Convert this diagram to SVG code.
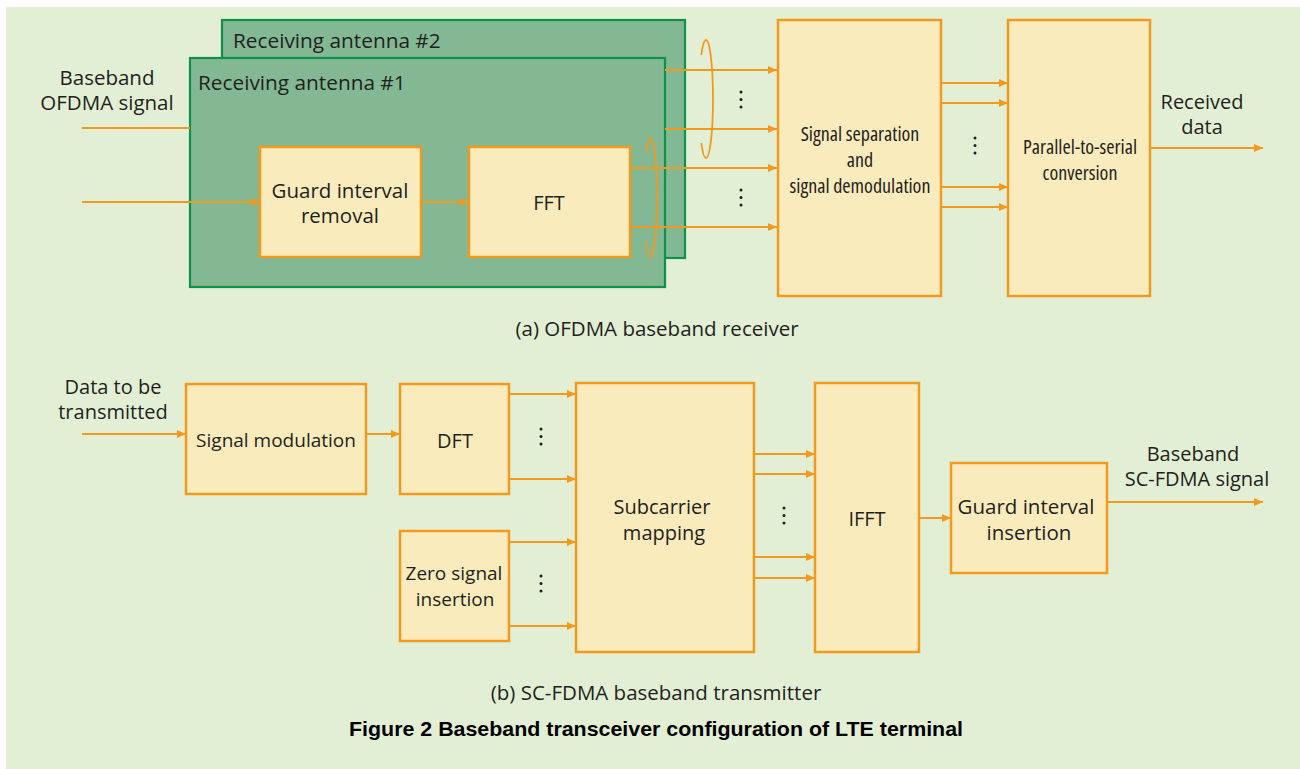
<svg xmlns="http://www.w3.org/2000/svg" width="1300" height="769" viewBox="0 0 1300 769">
<defs>
<marker id="arr" markerUnits="userSpaceOnUse" markerWidth="10" markerHeight="10" viewBox="0 0 10 10" refX="9" refY="5" orient="auto">
<path d="M0,1 L9,5 L0,9 Z" fill="#f39a1e"/>
</marker>
<style>
.bg{fill:#e2efd5}
.ant{fill:#82b893;stroke:#0e9148;stroke-width:2.2}
.box{fill:#faebbd;stroke:#f39a1e;stroke-width:2.5}
.ln{fill:none;stroke:#f39a1e;stroke-width:2}
.ar{fill:none;stroke:#f39a1e;stroke-width:2;marker-end:url(#arr)}
.ring{fill:none;stroke:#f39a1e;stroke-width:1.8}
.t{font-family:"Open Sans","Liberation Sans",sans-serif;font-size:20px;fill:#231f20;text-anchor:middle;dominant-baseline:central}
.big{font-size:20.5px}
.sm{font-size:19px}
.ts{font-family:"Open Sans","Liberation Sans",sans-serif;font-size:20.5px;fill:#231f20;text-anchor:middle;dominant-baseline:central}
.tc{font-family:"Open Sans","Liberation Sans",sans-serif;font-size:20px;font-stretch:80%;fill:#231f20;text-anchor:middle;dominant-baseline:central}
.tl{font-family:"Open Sans","Liberation Sans",sans-serif;font-size:20.8px;fill:#231f20;dominant-baseline:central}
.ttl{font-family:"Liberation Sans",Arial,sans-serif;font-size:21px;font-weight:bold;fill:#000;text-anchor:middle;dominant-baseline:central}
.dot{fill:#231f20}
</style>
</defs>
<rect class="bg" x="6" y="7" width="1294" height="762"/>

<g id="antenna2">
<rect class="ant" x="222" y="20" width="463" height="238"/>
<text class="tl" x="233" y="40">Receiving antenna #2</text>
</g>
<g id="antenna1">
<rect class="ant" x="190" y="58" width="475" height="229"/>
<text class="tl" x="198" y="82">Receiving antenna #1</text>
</g>

<g id="gi_removal">
<rect class="box" x="260" y="147" width="161" height="110"/>
<text class="t big" x="340" y="189.5">Guard interval</text>
<text class="t big" x="340" y="215">removal</text>
</g>
<g id="fft">
<rect class="box" x="469" y="147" width="161" height="110"/>
<text class="t" x="549" y="202">FFT</text>
</g>
<g id="sig_sep">
<rect class="box" x="778" y="20" width="163" height="276"/>
<text class="tc" x="860" y="133">Signal separation</text>
<text class="tc" x="860" y="159">and</text>
<text class="tc" x="860" y="185">signal demodulation</text>
</g>
<g id="p2s">
<rect class="box" x="1008" y="20" width="142" height="276"/>
<text class="tc" x="1080" y="146">Parallel-to-serial</text>
<text class="tc" x="1080" y="172">conversion</text>
</g>

<g id="sig_mod">
<rect class="box" x="186" y="384" width="180" height="110"/>
<text class="t sm" x="276" y="440">Signal modulation</text>
</g>
<g id="dft">
<rect class="box" x="400" y="384" width="109" height="110"/>
<text class="t" x="455" y="440">DFT</text>
</g>
<g id="zero">
<rect class="box" x="400" y="531" width="109" height="110"/>
<text class="t sm" x="454" y="573">Zero signal</text>
<text class="t sm" x="455" y="599">insertion</text>
</g>
<g id="subcarrier">
<rect class="box" x="576" y="383" width="178" height="269"/>
<text class="t" x="662" y="506">Subcarrier</text>
<text class="t" x="664" y="532">mapping</text>
</g>
<g id="ifft">
<rect class="box" x="815" y="383" width="104" height="269"/>
<text class="t" x="867" y="518">IFFT</text>
</g>
<g id="gi_insert">
<rect class="box" x="951" y="463" width="156" height="110"/>
<text class="t big" x="1026" y="506">Guard interval</text>
<text class="t big" x="1029" y="532">insertion</text>
</g>

<g id="connectors">
<line class="ln" x1="82" y1="128" x2="190" y2="128"/>
<line class="ar" x1="82" y1="202" x2="260" y2="202"/>
<line class="ar" x1="421" y1="202" x2="469" y2="202"/>
<line class="ar" x1="665" y1="70" x2="777" y2="70"/>
<line class="ar" x1="665" y1="129" x2="777" y2="129"/>
<line class="ar" x1="630" y1="168" x2="777" y2="168"/>
<line class="ar" x1="630" y1="227" x2="777" y2="227"/>
<path class="ring" d="M706,40 A7,59 0 0 1 706,158 M701.3,55 A7,59 0 0 1 706,40 M706,158 A7,59 0 0 1 701.3,143"/>
<path class="ring" d="M650.5,138 A6.5,59.5 0 0 1 650.5,257 M646.2,153 A6.5,59.5 0 0 1 650.5,138 M650.5,257 A6.5,59.5 0 0 1 646.2,242"/>
<line class="ar" x1="941" y1="83" x2="1008" y2="83"/>
<line class="ar" x1="941" y1="103" x2="1008" y2="103"/>
<line class="ar" x1="941" y1="187" x2="1008" y2="187"/>
<line class="ar" x1="941" y1="207" x2="1008" y2="207"/>
<line class="ar" x1="1150" y1="148" x2="1263" y2="148"/>

<line class="ar" x1="82" y1="434" x2="186" y2="434"/>
<line class="ar" x1="366" y1="434" x2="400" y2="434"/>
<line class="ar" x1="509" y1="394" x2="576" y2="394"/>
<line class="ar" x1="509" y1="479" x2="576" y2="479"/>
<line class="ar" x1="509" y1="542" x2="576" y2="542"/>
<line class="ar" x1="509" y1="626" x2="576" y2="626"/>
<line class="ar" x1="754" y1="454" x2="815" y2="454"/>
<line class="ar" x1="754" y1="474" x2="815" y2="474"/>
<line class="ar" x1="754" y1="557" x2="815" y2="557"/>
<line class="ar" x1="754" y1="578" x2="815" y2="578"/>
<line class="ar" x1="919" y1="518" x2="951" y2="518"/>
<line class="ar" x1="1107" y1="502" x2="1263" y2="502"/>
</g>

<g id="dots">
<circle class="dot" cx="741" cy="92" r="1.5"/><circle class="dot" cx="741" cy="99.5" r="1.5"/><circle class="dot" cx="741" cy="107" r="1.5"/>
<circle class="dot" cx="741" cy="190" r="1.5"/><circle class="dot" cx="741" cy="197.5" r="1.5"/><circle class="dot" cx="741" cy="205" r="1.5"/>
<circle class="dot" cx="975" cy="138" r="1.5"/><circle class="dot" cx="975" cy="145.5" r="1.5"/><circle class="dot" cx="975" cy="153" r="1.5"/>
<circle class="dot" cx="541" cy="429" r="1.5"/><circle class="dot" cx="541" cy="436.5" r="1.5"/><circle class="dot" cx="541" cy="444" r="1.5"/>
<circle class="dot" cx="541" cy="576" r="1.5"/><circle class="dot" cx="541" cy="583.5" r="1.5"/><circle class="dot" cx="541" cy="591" r="1.5"/>
<circle class="dot" cx="784" cy="508" r="1.5"/><circle class="dot" cx="784" cy="515.5" r="1.5"/><circle class="dot" cx="784" cy="523" r="1.5"/>
</g>

<g id="labels">
<text class="t big" x="107" y="76.5">Baseband</text>
<text class="t big" x="107" y="102">OFDMA signal</text>
<text class="t" x="1202" y="101">Received</text>
<text class="t" x="1202" y="126">data</text>
<text class="ts" x="657" y="328">(a) OFDMA baseband receiver</text>
<text class="t" x="113" y="386">Data to be</text>
<text class="t" x="113" y="411">transmitted</text>
<text class="t" x="1193" y="453">Baseband</text>
<text class="t" x="1197" y="478">SC-FDMA signal</text>
<text class="ts" x="656" y="692">(b) SC-FDMA baseband transmitter</text>
<text class="ttl" x="656" y="728" textLength="614" lengthAdjust="spacingAndGlyphs">Figure 2  Baseband transceiver configuration of LTE terminal</text>
</g>
</svg>
